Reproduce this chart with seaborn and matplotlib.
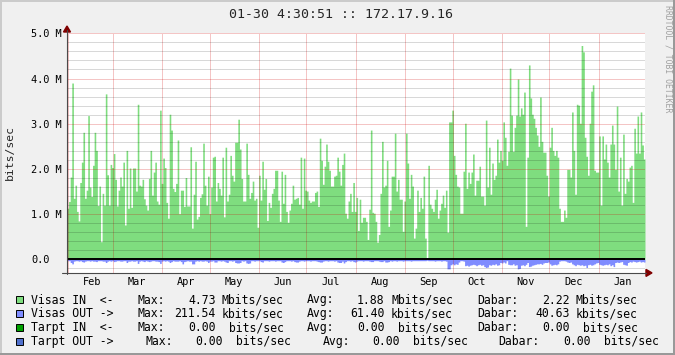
import numpy as np
import pandas as pd
import matplotlib
matplotlib.use("Agg")
import matplotlib.pyplot as plt
import matplotlib.transforms as mtrans
from matplotlib.patches import Rectangle, Polygon
from matplotlib.lines import Line2D
import seaborn as sns

# ---------------- data ----------------
title = "01-30 4:30:51 :: 172.17.9.16"
watermark = "RRDTOOL / TOBI OETIKER"
ylabel = "bits/sec"
start = pd.Timestamp("2023-01-31 04:30:51")
end = pd.Timestamp("2024-01-30 04:30:51")
month_labels = ["Feb", "Mar", "Apr", "May", "Jun", "Jul", "Aug", "Sep", "Oct", "Nov", "Dec", "Jan"]
month_starts = ["2023-02-01", "2023-03-01", "2023-04-01", "2023-05-01", "2023-06-01", "2023-07-01",
                "2023-08-01", "2023-09-01", "2023-10-01", "2023-11-01", "2023-12-01", "2024-01-01"]
ytick_vals = [0, 1, 2, 3, 4, 5]
ytick_labels = ["0.0", "1.0 M", "2.0 M", "3.0 M", "4.0 M", "5.0 M"]

# Visas IN (Mbit/s), daily
in_feb_apr = [1.13, 1.28, 1.82, 3.9, 1.35, 1.64, 1.06, 0.85, 1.7, 2.15, 2.81, 1.35, 1.53, 3.18, 1.6, 1.39,
              2.08, 2.81, 2.41, 1.19, 1.62, 0.39, 1.46, 1.2, 3.66, 1.87, 1.2, 2.1, 2.03, 2.34, 1.77, 1.18,
              1.53, 1.82, 1.62, 2.15, 0.76, 2.41, 1.13, 2.02, 1.15, 2.02, 2.02, 1.51, 3.43, 1.64, 1.62,
              1.77, 1.34, 1.2, 1.09, 1.79, 2.41, 1.42, 1.93, 2.15, 1.29, 1.22, 3.3, 1.68, 2.24, 2.03, 1.26,
              0.91, 3.21, 2.86, 1.57, 1.5, 1.68, 2.64, 1.01, 1.53, 1.53, 1.17, 1.81, 1.18, 1.18, 2.49, 0.69,
              1.44, 2.17, 0.89, 0.95, 1.37, 1.45, 2.57, 1.64, 1.2, 1.84, 1.01, 1.6]
in_may_jul = [2.26, 2.28, 1.29, 1.7, 1.57, 1.42, 2.26, 0.94, 2.48, 1.29, 1.44, 2.3, 1.86, 1.73, 2.59, 2.59,
              3.1, 2.44, 1.79, 1.29, 1.29, 2.57, 1.88, 1.35, 1.48, 1.73, 1.31, 1.35, 0.71, 1.86, 1.31,
              2.17, 1.55, 1.79, 0.86, 1.26, 1.15, 1.46, 1.57, 1.97, 1.97, 1.31, 0.84, 1.95, 1.24, 1.88,
              1.06, 0.82, 1.09, 1.24, 1.64, 1.33, 1.35, 1.37, 1.22, 2.26, 1.13, 2.24, 1.53, 1.51, 1.31,
              1.26, 1.29, 1.29, 1.48, 1.51, 1.17, 2.68, 2.19, 1.66, 2.06, 2.55, 2.17, 1.97, 1.62, 1.62,
              1.84, 1.86, 2.26, 1.95, 1.64, 2.1, 2.35, 1.02, 0.91, 1.29, 1.46, 1.06, 1.7, 1.06, 1.37, 0.64]
in_aug_oct = [1.33, 0.82, 0.93, 0.93, 0.84, 0.44, 1.11, 2.86, 1.04, 1.02, 0.84, 0.38, 0.55, 1.46, 2.61,
              1.6, 1.64, 2.19, 0.73, 1.09, 1.84, 1.84, 2.79, 1.51, 1.77, 1.33, 1.33, 0.62, 1.29, 2.79,
              2.13, 1.35, 1.88, 1.62, 0.47, 0.69, 1.53, 1.06, 1.37, 1.13, 1.84, 0.47, 0.0, 2.08, 1.22,
              1.13, 1.06, 1.33, 1.55, 0.91, 1.09, 1.24, 1.42, 1.15, 1.53, 0.6, 3.04, 3.04, 3.3, 2.3, 1.88,
              1.62, 1.6, 1.02, 1.02, 1.95, 3.01, 1.57, 1.93, 1.68, 1.93, 2.33, 1.42, 1.75, 1.75, 2.06,
              1.4, 1.4, 1.2, 3.08, 1.6, 2.48, 1.44, 2.13, 1.77, 1.86, 2.66, 2.15, 2.41, 2.19, 3.04, 2.7,
              2.08, 2.39, 4.23]
in_nov_jan = [3.19, 2.39, 2.92, 3.19, 3.99, 3.17, 3.35, 3.21, 3.7, 0.73, 2.26, 4.3, 3.57, 3.21, 3.12, 2.92,
              2.75, 2.5, 3.59, 2.61, 2.37, 2.37, 1.86, 1.4, 2.48, 2.92, 2.41, 2.3, 2.41, 2.26, 1.13, 0.84,
              0.84, 1.09, 0.93, 1.99, 1.99, 1.82, 3.26, 2.41, 1.44, 3.43, 3.41, 3.01, 4.73, 4.59, 2.7,
              2.28, 1.86, 3.01, 3.72, 3.86, 1.97, 1.93, 1.93, 2.73, 1.2, 2.73, 2.22, 2.55, 2.15, 1.82,
              2.55, 2.97, 2.55, 1.99, 3.39, 1.51, 2.26, 1.2, 2.77, 1.46, 1.79, 1.73, 2.04, 2.08, 1.26,
              2.9, 2.35, 3.17, 2.35, 3.26, 2.53, 2.22]

# Visas OUT (Mbit/s), daily, drawn downward
out_feb_apr = [0.03, 0.03, 0.07, 0.1, 0.04, 0.03, 0.03, 0.04, 0.03, 0.05,
               0.06, 0.04, 0.03, 0.03, 0.04, 0.03, 0.04, 0.04, 0.05, 0.03,
               0.03, 0.03, 0.04, 0.04, 0.07, 0.04, 0.03, 0.04, 0.03, 0.05,
               0.04, 0.03, 0.03, 0.04, 0.04, 0.03, 0.03, 0.07, 0.04, 0.04,
               0.03, 0.04, 0.04, 0.03, 0.09, 0.04, 0.03, 0.04, 0.05, 0.03,
               0.04, 0.05, 0.04, 0.03, 0.03, 0.04, 0.04, 0.05, 0.09, 0.04,
               0.03, 0.04, 0.03, 0.04, 0.07, 0.05, 0.03, 0.04, 0.04, 0.04,
               0.03, 0.05, 0.1, 0.05, 0.04, 0.03, 0.04, 0.04, 0.1, 0.1,
               0.04, 0.03, 0.04, 0.03, 0.04, 0.04, 0.03, 0.04, 0.07, 0.04, 0.04]
out_may_jul = [0.03, 0.06, 0.06, 0.03, 0.03, 0.04, 0.03, 0.04, 0.06, 0.07,
               0.03, 0.03, 0.04, 0.03, 0.07, 0.08, 0.08, 0.07, 0.03, 0.04,
               0.03, 0.08, 0.09, 0.08, 0.03, 0.03, 0.04, 0.03, 0.03, 0.03,
               0.05, 0.06, 0.03, 0.03, 0.03, 0.04, 0.03, 0.03, 0.03, 0.04,
               0.03, 0.03, 0.03, 0.06, 0.07, 0.05, 0.03, 0.03, 0.03, 0.04,
               0.03, 0.05, 0.06, 0.06, 0.04, 0.03, 0.03, 0.04, 0.03, 0.03,
               0.03, 0.04, 0.03, 0.03, 0.03, 0.04, 0.05, 0.06, 0.06, 0.04,
               0.03, 0.03, 0.04, 0.03, 0.03, 0.03, 0.04, 0.03, 0.06, 0.07,
               0.07, 0.04, 0.08, 0.05, 0.03, 0.03, 0.04, 0.03, 0.05, 0.06, 0.04, 0.03]
out_aug_oct = [0.03, 0.03, 0.04, 0.03, 0.03, 0.03, 0.04, 0.05, 0.05, 0.03,
               0.03, 0.03, 0.04, 0.05, 0.05, 0.03, 0.06, 0.06, 0.05, 0.03,
               0.04, 0.03, 0.03, 0.04, 0.03, 0.03, 0.03, 0.04, 0.03, 0.03,
               0.03, 0.03, 0.04, 0.03, 0.03, 0.03, 0.03, 0.03, 0.03, 0.03,
               0.03, 0.03, 0.02, 0.03, 0.03, 0.03, 0.03, 0.04, 0.03, 0.03,
               0.03, 0.04, 0.03, 0.03, 0.04, 0.21, 0.21, 0.12, 0.1, 0.12,
               0.1, 0.11, 0.06, 0.03, 0.03, 0.04, 0.14, 0.13, 0.15, 0.13,
               0.12, 0.11, 0.12, 0.14, 0.12, 0.11, 0.13, 0.12, 0.16, 0.18,
               0.17, 0.12, 0.13, 0.11, 0.12, 0.1, 0.13, 0.12, 0.07, 0.08,
               0.06, 0.08, 0.03, 0.11, 0.12]
out_nov_jan = [0.12, 0.1, 0.13, 0.12, 0.21, 0.2, 0.13, 0.12, 0.14, 0.11,
               0.07, 0.16, 0.15, 0.13, 0.12, 0.11, 0.1, 0.1, 0.09, 0.11,
               0.08, 0.07, 0.07, 0.06, 0.1, 0.13, 0.12, 0.11, 0.12, 0.1,
               0.04, 0.03, 0.03, 0.03, 0.04, 0.06, 0.07, 0.06, 0.1, 0.12,
               0.14, 0.11, 0.12, 0.13, 0.12, 0.14, 0.13, 0.18, 0.12, 0.11,
               0.13, 0.12, 0.1, 0.08, 0.07, 0.11, 0.12, 0.13, 0.12, 0.11,
               0.12, 0.1, 0.14, 0.12, 0.16, 0.07, 0.06, 0.07, 0.06, 0.05,
               0.11, 0.12, 0.13, 0.07, 0.05, 0.06, 0.04, 0.05, 0.06, 0.05,
               0.04, 0.06, 0.05, 0.06]

legend_names = ["Visas IN  <-", "Visas OUT ->", "Tarpt IN  <-", "Tarpt OUT ->"]
legend_max = [("4.73", "Mbits/sec"), ("211.54", "kbits/sec"), ("0.00", " bits/sec"), ("0.00", " bits/sec")]
legend_avg = [("1.88", "Mbits/sec"), ("61.40", "kbits/sec"), ("0.00", " bits/sec"), ("0.00", " bits/sec")]
legend_cur = [("2.22", "Mbits/sec"), ("40.63", "kbits/sec"), ("0.00", " bits/sec"), ("0.00", " bits/sec")]

# ---------------- style ----------------
GREEN = "#7FDD7F"
BLUE = "#7F8CFF"
DGREEN = "#00A000"
DBLUE = "#5070CC"
MONO = "DejaVu Sans Mono"

sns.set_style("white")
plt.rcParams["font.family"] = [MONO, "DejaVu Sans"]

W, H = 675, 355
def fx(x):
    return x / W
def fy(y):
    return 1 - y / H

fig = plt.figure(figsize=(W / 100, H / 100), dpi=100)
fig.patch.set_facecolor("#F0F0F0")

X0, X1, YT, YB = 67, 645, 33.3, 272.9
ax = fig.add_axes([fx(X0), fy(YB), (X1 - X0) / W, (YB - YT) / H])
ax.set_facecolor("white")

total_days = (end - start) / pd.Timedelta(days=1)
visas_in = np.array(in_feb_apr + in_may_jul + in_aug_oct + in_nov_jan)
visas_out = np.array(out_feb_apr + out_may_jul + out_aug_oct + out_nov_jan)

step_in = total_days / len(visas_in)
step_out = total_days / len(visas_out)
df_in = pd.DataFrame({"day": (np.arange(len(visas_in)) + 0.5) * step_in, "rate": visas_in})
df_out = pd.DataFrame({"day": (np.arange(len(visas_out)) + 0.5) * step_out, "rate": -visas_out})


def draw_area(df, n, color):
    before_c = set(map(id, ax.collections))
    before_l = set(map(id, ax.lines))
    before_p = set(map(id, ax.patches))
    sns.histplot(data=df, x="day", weights="rate", bins=n, binrange=(0, total_days),
                 element="step", fill=True, color=color, alpha=1, linewidth=0, ax=ax)
    for ln in list(ax.lines):
        if id(ln) not in before_l:
            ln.remove()
    for p in list(ax.patches):
        if id(p) not in before_p:
            p.remove()
    for coll in list(ax.collections):
        if id(coll) not in before_c:
            coll.set_facecolor(color)
            coll.set_edgecolor(color)
            coll.set_linewidth(0)
            coll.set_alpha(1)
            coll.set_zorder(1)


draw_area(df_in, len(visas_in), GREEN)
draw_area(df_out, len(visas_out), BLUE)

ax.set_xlim(0, total_days)
ax.set_ylim(-0.3, 5.0)
ax.set_xlabel("")
ax.set_ylabel("")

month_pos = [(pd.Timestamp(m) - start) / pd.Timedelta(days=1) for m in month_starts]
ax.set_xticks(month_pos)
ax.set_yticks(ytick_vals)
ax.set_yticks(np.round(np.arange(-0.2, 5.01, 0.2), 2), minor=True)
ax.tick_params(labelleft=False, labelbottom=False)
ax.tick_params(axis="y", which="major", length=3, width=0.7, color="#C08080", direction="out", pad=0)
ax.tick_params(axis="y", which="minor", length=1.5, width=0.7, color="#A0A0A0", direction="out")
ax.tick_params(axis="x", which="major", length=2.5, width=0.7, color="#C08080", direction="out")
ax.set_axisbelow(False)
ax.yaxis.grid(True, which="minor", color="#000000", alpha=0.3, lw=0.72, ls=(0, (1, 1)))
ax.yaxis.grid(True, which="major", color="#D00000", alpha=0.45, lw=0.72, ls=(0, (1, 1)))
ax.xaxis.grid(True, which="major", color="#D00000", alpha=0.45, lw=0.72, ls=(0, (1, 1)))
for s in ax.spines.values():
    s.set_visible(False)

ax.axhline(0, color="black", lw=1.4, zorder=4)

# axes lines + arrows
AX_COL = "#4A4A4A"
ARR = "#800000"
fig.add_artist(Line2D([fx(X0), fx(X0)], [fy(YB + 1), fy(30)], color=AX_COL, lw=0.8))
fig.add_artist(Line2D([fx(62), fx(X1 + 1)], [fy(YB), fy(YB)], color=AX_COL, lw=0.8))
fig.add_artist(Polygon([[fx(X0), fy(26)], [fx(X0 - 3.5), fy(32)], [fx(X0 + 3.5), fy(32)]],
                       closed=True, color=ARR, transform=fig.transFigure))
fig.add_artist(Polygon([[fx(652), fy(YB)], [fx(646), fy(YB - 3.5)], [fx(646), fy(YB + 3.5)]],
                       closed=True, color=ARR, transform=fig.transFigure))

# y tick labels
ylab_tr = mtrans.blended_transform_factory(ax.transAxes, ax.transData) + \
    mtrans.ScaledTranslation(0, -4.0 / 100, fig.dpi_scale_trans)
for v, lab in zip(ytick_vals, ytick_labels):
    ax.text((31 - X0) / (X1 - X0), v, lab, transform=ylab_tr, ha="left", va="baseline",
            fontsize=7.4, family=MONO, color="black")

# month labels (centred 15 days after month start)
mon_tr = mtrans.blended_transform_factory(ax.transData, ax.transAxes) + \
    mtrans.ScaledTranslation(0, -12.3 / 100, fig.dpi_scale_trans)
for p, lab in zip(month_pos, month_labels):
    ax.text(p + 15, 0, lab, transform=mon_tr, ha="center", va="baseline",
            fontsize=7.4, family=MONO, color="black")

# title, y label, watermark
fig.text(fx(341), fy(18.5), title, ha="center", va="baseline", fontsize=9.5, family=MONO)
fig.text(fx(10), fy(152), ylabel, ha="center", va="center", rotation=90, fontsize=8.2, family=MONO)
fig.text(fx(668), fy(59), watermark, ha="center", va="center", rotation=270, fontsize=5.9,
         family=MONO, color="#A0A0A0")

# legend: piece positions in pixels (label, number right edge, unit start) x3
layout = [(137, 215.5, 222, 307, 384.5, 391, 477, 569.5, 576),
          (137, 215.5, 222, 307, 384.5, 391, 477, 569.5, 576),
          (137, 215.5, 222, 307, 384.5, 391, 477, 569.5, 576),
          (145, 222.5, 229, 323, 399.5, 406, 498, 590.5, 597)]
sq_colors = [GREEN, BLUE, DGREEN, DBLUE]
baselines = [303.5, 317.4, 331.3, 345.0]
LFS = 8.3
for i in range(4):
    L = layout[i]
    yb = fy(baselines[i])
    kw = dict(va="baseline", fontsize=LFS, family=MONO, color="black")
    fig.text(fx(31), yb, legend_names[i], ha="left", **kw)
    for j, (lab, val) in enumerate([("Max:", legend_max[i]), ("Avg:", legend_avg[i]),
                                     ("Dabar:", legend_cur[i])]):
        fig.text(fx(L[3 * j]), yb, lab, ha="left", **kw)
        fig.text(fx(L[3 * j + 1]), yb, val[0], ha="right", **kw)
        fig.text(fx(L[3 * j + 2]), yb, val[1], ha="left", **kw)
    fig.add_artist(Rectangle((fx(16), fy(baselines[i] - 0.3)), 7 / W, 7 / H, transform=fig.transFigure,
                             facecolor=sq_colors[i], edgecolor="black", lw=0.7))

# 3D frame
fig.add_artist(Rectangle((0, fy(2)), 1, 2 / H, transform=fig.transFigure, color="#CBCBCB", lw=0))
fig.add_artist(Rectangle((0, 0), 2 / W, 1, transform=fig.transFigure, color="#CBCBCB", lw=0))
fig.add_artist(Rectangle((0, 0), 1, 2.5 / H, transform=fig.transFigure, color="#999999", lw=0))
fig.add_artist(Rectangle((1 - 2.5 / W, 0), 2.5 / W, 1, transform=fig.transFigure, color="#999999", lw=0))

fig.savefig("out.png", dpi=100, facecolor=fig.get_facecolor())
